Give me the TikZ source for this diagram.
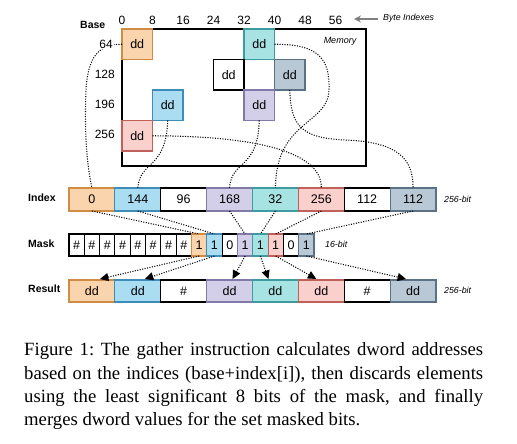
\documentclass[tikz,border=0pt]{standalone}
\usepackage{fontspec}
\setmainfont{Liberation Serif}
\newfontfamily\diafont{Liberation Sans}
\usetikzlibrary{arrows.meta,calc}
\definecolor{oF}{HTML}{FAD4AC}\definecolor{oD}{HTML}{D08C45}
\definecolor{bF}{HTML}{AADCF2}\definecolor{bD}{HTML}{3D8DB8}
\definecolor{lF}{HTML}{D3CFE8}\definecolor{lD}{HTML}{7F7AA8}
\definecolor{tF}{HTML}{A8E3E3}\definecolor{tD}{HTML}{3E9CA0}
\definecolor{pF}{HTML}{F9D0CC}\definecolor{pD}{HTML}{C0605A}
\definecolor{gF}{HTML}{B9C8D5}\definecolor{gD}{HTML}{5B7286}
\begin{document}
\begin{tikzpicture}[x=1pt,y=-1pt,
  cellbox/.style={draw, line width=1.1pt, inner sep=0pt, outer sep=0pt, font=\diafont\fontsize{12.5}{14}\selectfont},
  memcell/.style={cellbox, minimum width=30.5pt, minimum height=30.5pt},
  idxcell/.style={cellbox, minimum width=45.875pt, minimum height=23pt},
  maskcell/.style={cellbox, minimum width=15.3125pt, minimum height=22pt},
  toplab/.style={font=\diafont\fontsize{12}{14}\selectfont, inner sep=0pt},
  rowlab/.style={font=\diafont\fontsize{12}{14}\selectfont, inner sep=1pt, anchor=east},
  namelab/.style={font=\diafont\bfseries\fontsize{10.5}{12}\selectfont, anchor=west, inner sep=0pt},
  notelab/.style={font=\diafont\itshape\fontsize{8.8}{10}\selectfont, inner sep=0pt},
  dotline/.style={line width=1.05pt, dash pattern=on 1.05pt off 1.45pt},
  arrline/.style={dotline, -{Triangle[length=8.5pt,width=8pt]}}
]
\useasboundingbox (0,0) rectangle (517,444);
% memory
\node[draw, line width=1.2pt, minimum width=244pt, minimum height=137pt, inner sep=0pt, outer sep=0pt] (mem) at (244,97.5) {};
\node[notelab, font=\diafont\itshape\fontsize{9}{10}\selectfont] (memlab) at (340,41) {Memory};
\node[memcell, fill=oF, draw=oD] (mO) at (137.25,44.25) {dd};
\node[memcell, fill=tF, draw=tD] (mT) at (259.25,44.25) {dd};
\node[memcell, fill=white, draw=black, line width=1.4pt] (mW) at (228.75,74.75) {dd};
\node[memcell, fill=gF, draw=gD] (mG) at (289.75,74.75) {dd};
\node[memcell, fill=bF, draw=bD] (mB) at (167.75,105.25) {dd};
\node[memcell, fill=lF, draw=lD] (mL) at (259.25,105.25) {dd};
\node[memcell, fill=pF, draw=pD] (mP) at (137.25,135.75) {dd};
% top labels
\node[namelab, font=\diafont\bfseries\fontsize{10.5}{12}\selectfont] (base) at (80,25) {Base};
\foreach \k/\t in {0/0,1/8,2/16,3/24,4/32,5/40,6/48,7/56}
  \node[toplab] (c\k) at ({122+30.5*\k},20) {\t};
\coordinate (bs) at (378,19);
\coordinate (be) at (354,19);
\draw[gray, line width=1.2pt, -{Stealth[length=7pt,width=7pt,open]}] (bs) -- (be);
\node[notelab, anchor=west] (bytelab) at (383,18) {Byte Indexes};
% index row
\foreach \i/\t/\f/\d in {0/0/oF/oD,1/144/bF/bD,2/96/white/black,3/168/lF/lD,4/32/tF/tD,5/256/pF/pD,6/112/white/black,7/112/gF/gD}
  \node[idxcell, fill=\f, draw=\d] (i\i) at ({69+45.875*(\i+0.5)},199.5) {\t};
% mask row
\foreach \i/\t/\f/\d in {0/\#/white/black,1/\#/white/black,2/\#/white/black,3/\#/white/black,4/\#/white/black,5/\#/white/black,6/\#/white/black,7/\#/white/black,8/1/oF/oD,9/1/bF/bD,10/0/white/black,11/1/lF/lD,12/1/tF/tD,13/1/pF/pD,14/0/white/black,15/1/gF/gD}
  \node[maskcell, fill=\f, draw=\d] (k\i) at ({69+15.3125*(\i+0.5)},245) {\t};
% result row
\foreach \i/\t/\f/\d in {0/dd/oF/oD,1/dd/bF/bD,2/\#/white/black,3/dd/lF/lD,4/dd/tF/tD,5/dd/pF/pD,6/\#/white/black,7/dd/gF/gD}
  \node[idxcell, minimum height=22pt, fill=\f, draw=\d] (r\i) at ({69+45.875*(\i+0.5)},291) {\t};
% row names
\node[namelab] (idxname) at (28,198) {Index};
\node[namelab] (maskname) at (28,244) {Mask};
\node[namelab] (resname) at (28,289) {Result};
\node[notelab, anchor=west] (bitA) at (444,199) {256-bit};
\node[notelab, anchor=west] (bitB) at (325,244) {16-bit};
\node[notelab, anchor=west] (bitC) at (444,290) {256-bit};
% memory -> index
\draw[dotline] (mO.west) .. controls (100,44) and (88,55) .. (86,90) .. controls (84,140) and (88,170) .. (i0.north);
\draw[dotline] (mB.south) .. controls (166,170) and (140,160) .. (i1.north);
\draw[dotline] (mL.south) .. controls (258,170) and (231,160) .. (i3.north);
\draw[dotline] (mP.east) .. controls (250,136) and (322,150) .. (i5.north);
\draw[dotline] (mT.east) .. controls (320,44) and (330,60) .. (329,90) .. controls (328,125) and (276,120) .. (i4.north);
\draw[dotline] (mG.south) .. controls (291,125) and (300,138) .. (345,140) .. controls (400,142) and (413,160) .. (i7.north);
% row labels
\node[rowlab, fill=white] (r64) at (114,44) {64};
\node[rowlab] (r128) at (116,74) {128};
\node[rowlab] (r196) at (116,104) {196};
\node[rowlab] (r256) at (116,134.5) {256};
% index -> mask
\draw[dotline] (i0.south) -- (k8.north);
\draw[dotline] (i1.south) -- (k9.north);
\draw[dotline] (i3.south) -- (k11.north);
\draw[dotline] (i4.south) -- (k12.north);
\draw[dotline] (i5.south) -- (k13.north);
\draw[dotline] (i7.south) -- (k15.north);
% mask -> result
\draw[arrline] (k8.south) -- ($(r0.north)+(8,-1)$);
\draw[arrline] (k9.south) -- ($(r1.north)+(7,-1)$);
\draw[arrline] (k11.south) -- ($(r3.north)+(3,-1)$);
\draw[arrline] (k12.south) -- ($(r4.north)+(-7,-1)$);
\draw[arrline] (k13.south) -- ($(r5.north)+(-5,-1)$);
\draw[arrline] (k15.south) -- ($(r7.north)+(-7,-1)$);
% caption
\node[anchor=north west, text width=459pt, align=justify, inner sep=0pt, font=\frenchspacing\fontsize{18.7}{23.4}\selectfont] (cap) at (24,342.5)
{Figure 1: The gather instruction calculates dword addresses\linebreak based on the indices (base+index[i]), then discards elements\linebreak using the least significant 8 bits of the mask, and finally\linebreak merges dword values for the set masked bits.};
\end{tikzpicture}
\end{document}
